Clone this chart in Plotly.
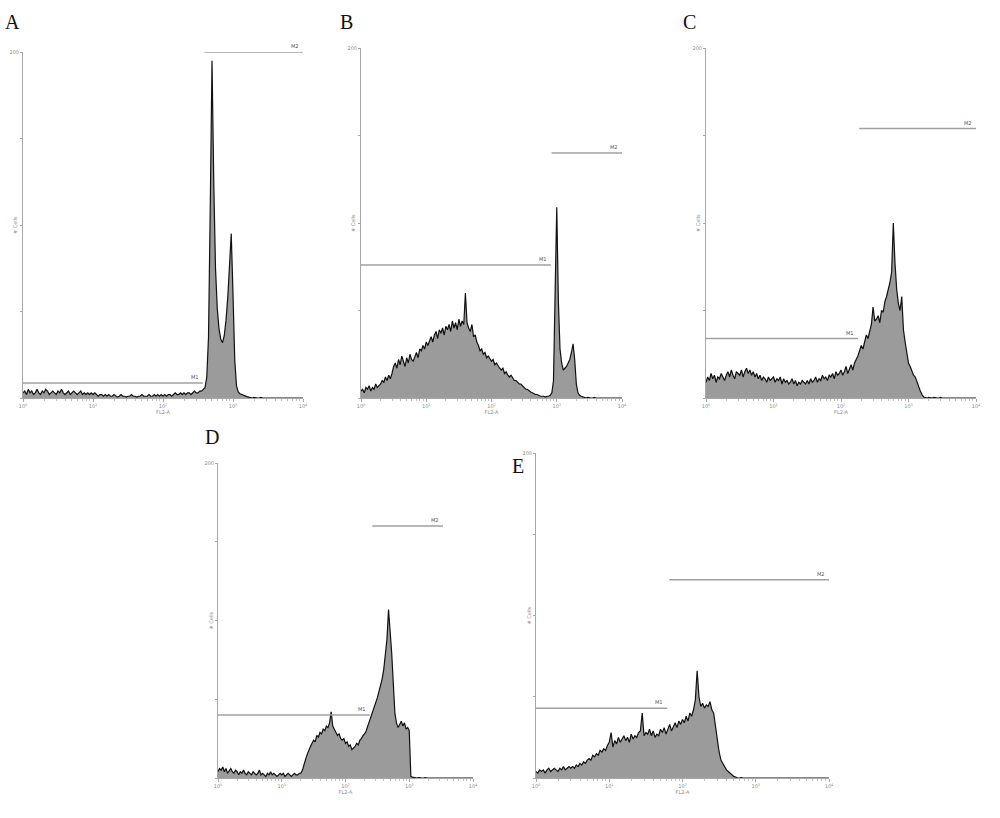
import math
import plotly.graph_objects as go

# ---------------- data ----------------
panel_labels = ['A', 'B', 'C', 'D', 'E']
bin_step = 0.025            # histogram channel width, in decades of FL2-A
n_bins = 161
log_pos = [round(i * bin_step, 4) for i in range(n_bins)]   # decade position 0..4

counts_a = ([3, 4, 2, 5, 3, 4, 2, 3, 5, 3, 2, 4, 3, 5, 4, 2, 3, 4, 3, 2, 4, 3, 5, 3, 2, 3, 4, 2, 3, 4, 3, 2, 3, 4, 2, 3, 2, 3, 2, 3]
            + [2, 3, 2, 1, 2, 2, 1, 2, 1, 2, 1, 1, 2, 1, 0.5, 1, 2, 1, 1, 0.5, 1, 1, 2, 1, 1, 0.5, 1, 1, 2, 1, 1, 1, 2, 1, 1, 2, 1, 2, 1, 2]
            + [1, 2, 1, 2, 2, 1, 2, 3, 2, 2, 3, 2, 3, 2, 3, 3, 2, 3, 4, 3, 3, 4, 4, 5]
            + [6, 12, 35, 110, 195, 125, 75, 52, 40, 34, 32, 36, 45, 58, 80, 95, 60, 22, 7, 3.5, 2.5, 2, 1.5, 1, 0.8, 0.5, 0.3]
            + [0, 0.3, 0, 0, 0, 0.3, 0, 0, 0, 0, 0.3, 0, 0, 0, 0, 0, 0.3, 0, 0, 0, 0, 0, 0, 0, 0, 0, 0, 0, 0, 0])

counts_b = ([4, 5, 3, 6, 5, 7, 4, 6, 5, 8, 6, 7]
            + [8, 10, 9, 12, 10, 13, 11, 14, 18, 20, 17]
            + [22, 19, 24, 21, 18, 23, 20, 25, 22, 21]
            + [24, 26, 23, 28, 27, 30, 28, 32, 30, 33]
            + [35, 32, 36, 38, 34, 39, 37, 40, 36, 41, 39]
            + [42, 38, 44, 40, 43, 39, 45, 41, 44, 42]
            + [60]
            + [43, 40, 38, 42, 35, 36, 32, 30, 27]
            + [28, 25, 26, 23, 24, 22, 21, 22, 19, 20, 18]
            + [17, 16, 17, 14, 15, 13, 12, 13, 11, 10]
            + [10, 9, 8, 8, 7, 6, 5, 5, 4, 3.4]
            + [3, 2.5, 2, 2, 1.5, 1, 1, 1, 0.5, 1, 1, 1.5, 3]
            + [10, 60, 109, 55, 28, 20, 16, 17, 18, 20, 22, 26, 31, 22, 8, 3, 1.5, 1, 0.8, 0.5]
            + [0, 0.3, 0, 0, 0, 0.3, 0, 0, 0, 0, 0, 0.3, 0, 0, 0, 0, 0, 0, 0, 0, 0, 0, 0])

counts_c = ([9, 12, 10, 14, 11, 13, 9, 12, 11, 14, 12, 10, 13, 15, 12, 16, 13, 11, 15, 14]
            + [13, 16, 12, 15, 17, 14, 16, 13, 15, 12, 14, 11, 13, 10, 12, 11, 9, 12, 10, 11]
            + [12, 9, 11, 10, 12, 8, 11, 9, 10, 8, 9, 11, 8, 10, 7, 9, 8, 10, 9, 8]
            + [10, 8, 11, 9, 10, 12, 9, 11, 10, 13, 11, 12, 10, 13, 12, 14, 11, 15, 13, 14]
            + [16, 13, 15, 18, 14, 17, 19, 16, 20, 22]
            + [24, 27, 30, 28, 33, 36, 34, 39, 42, 52]
            + [44, 45, 47, 43, 50, 49, 55, 58, 62, 66]
            + [72, 100, 77, 62, 54, 50, 58, 39, 32, 27]
            + [20, 18, 15, 13, 12, 9, 6, 4, 2, 0.6, 0.3]
            + [0, 0.3, 0, 0, 0.3, 0, 0, 0, 0.3, 0, 0, 0, 0, 0.3, 0, 0, 0, 0, 0, 0.3, 0, 0, 0, 0, 0, 0, 0, 0, 0, 0])

counts_d = ([4, 6, 5, 7, 4, 6, 3, 5, 6, 4, 3, 5, 4, 2, 4, 3, 5, 3, 2, 4]
            + [3, 2, 4, 3, 2, 3, 5, 2, 3, 2, 1, 3, 2, 4, 2, 3, 2, 1, 2, 3]
            + [2, 3, 1, 2, 3, 2, 1, 2, 3, 2, 2, 3]
            + [3, 5, 9, 12, 15, 18, 20, 22, 24, 23, 27, 26, 29, 28, 31, 30, 33, 32, 35, 42,
               33, 31, 29, 27, 28, 25, 24, 25, 22, 23, 20, 21, 18, 19, 20, 22, 21, 24, 25, 27,
               28, 30, 33, 35, 38, 41, 44, 48, 51, 55, 59, 63, 69, 78, 88, 107, 95, 79, 60, 41,
               35, 32, 34, 36, 33, 35, 31, 32, 30, 1, 0.6, 0.3]
            + [0, 0, 0.3, 0, 0, 0, 0.3, 0, 0, 0, 0, 0, 0.3, 0, 0, 0, 0, 0, 0, 0, 0, 0, 0, 0, 0,
               0, 0, 0, 0, 0, 0, 0, 0, 0, 0, 0, 0])

counts_e = ([4, 3, 5, 4, 5, 3, 5, 6, 4, 5, 6, 5, 4, 6, 5, 7, 5, 6, 7, 6]
            + [7, 6, 8, 7, 9, 8, 10, 9, 11, 12, 11, 14, 13, 15, 14, 17, 16, 18, 17, 20]
            + [22, 28, 19, 23, 21, 25, 22, 24, 26, 23, 25, 22, 27, 24, 26, 25, 28, 29, 40, 26]
            + [28, 27, 30, 26, 29, 25, 27, 26, 30, 28, 31, 27, 30, 33, 29, 32, 34, 31, 35, 33]
            + [36, 34, 38, 35, 40, 38, 42, 48, 66, 50, 44, 46, 43, 45, 44, 47, 42, 40, 32, 23]
            + [16, 11, 9, 7, 5, 4, 3, 2, 1, 0.6]
            + [0, 0, 0.3, 0, 0, 0, 0, 0.3, 0, 0, 0, 0, 0, 0, 0.3, 0, 0, 0, 0, 0, 0, 0, 0, 0.3, 0, 0,
               0, 0, 0, 0, 0, 0, 0, 0, 0, 0, 0, 0, 0, 0, 0, 0, 0, 0, 0, 0, 0, 0, 0, 0, 0][:51])

all_counts = [counts_a, counts_b, counts_c, counts_d, counts_e]

# marker gates (decades of FL2-A, and height in counts)
m1_start = [0, 0, 0, 0, 0]
m1_end = [2.57, 2.91, 2.25, 2.38, 1.79]
m1_level = [8.7, 76, 34, 40, 43]
m2_start = [2.59, 2.92, 2.27, 2.42, 1.82]
m2_end = [4, 4, 4, 3.53, 4]
m2_level = [200, 140, 154, 160, 122]

decade_ticks = [0, 1, 2, 3, 4]
decade_labels = ['10<sup>0</sup>', '10<sup>1</sup>', '10<sup>2</sup>', '10<sup>3</sup>', '10<sup>4</sup>']
count_ticks = [0, 50, 100, 150, 200]
count_labels = ['', '', '', '', '200']
x_title = 'FL2-A'
y_title = '# Cells'

# ---------------- layout (pixels of the 1000x818 page) ----------------
W, H = 1000, 818
box_left = [23, 361, 706, 218, 536]
box_right = [303, 622, 976, 473, 829]
box_bottom = [398, 398, 398, 778, 778]
box_top = [52, 48, 48, 463, 453]
letter_x = [12, 346, 689, 212, 518]
letter_y = [22, 22, 22, 437, 466]


def fx(px):
    return px / W


def fy(py):
    return 1 - py / H


minor_vals = [d + math.log10(k) for d in range(4) for k in range(2, 10)]

fig = go.Figure()
axis_grey = '#a8a8a8'
small_font = dict(family='DejaVu Sans', size=5, color='#8a8a8a')

for p in range(5):
    sfx = '' if p == 0 else str(p + 1)
    xa, ya = 'x' + sfx, 'y' + sfx
    n = len(all_counts[p])
    fig.add_trace(go.Scatter(
        x=log_pos[:n], y=all_counts[p], xaxis=xa, yaxis=ya,
        mode='lines', fill='tozeroy', fillcolor='#9b9b9b',
        line=dict(color='#111111', width=1.2), showlegend=False, hoverinfo='skip'))

    fig.update_layout(**{
        'xaxis' + sfx: dict(
            domain=[fx(box_left[p]), fx(box_right[p])], anchor=ya, range=[0, 4],
            showgrid=False, zeroline=False, showline=True, linecolor=axis_grey, linewidth=1,
            ticks='outside', ticklen=3, tickcolor=axis_grey, tickwidth=1,
            tickvals=decade_ticks, ticktext=decade_labels, tickfont=small_font,
            minor=dict(tickvals=minor_vals, ticks='outside', ticklen=2, tickcolor='#c0c0c0'),
            title=dict(text=x_title, font=small_font, standoff=1), automargin=False),
        'yaxis' + sfx: dict(
            domain=[fy(box_bottom[p]), fy(box_top[p])], anchor=xa, range=[0, 200],
            showgrid=False, zeroline=False, showline=True, linecolor=axis_grey, linewidth=1,
            ticks='outside', ticklen=2, tickcolor=axis_grey, tickwidth=1,
            tickvals=count_ticks, ticktext=count_labels, tickfont=small_font,
            automargin=False),
    })

    # y-axis title placed close to the axis line
    fig.add_annotation(x=fx(box_left[p] - 8), y=fy((box_top[p] + box_bottom[p]) / 2),
                       xref='paper', yref='paper', text=y_title, textangle=-90,
                       showarrow=False, xanchor='center', yanchor='middle', font=small_font)

    for (s, e, lv, name) in [(m1_start[p], m1_end[p], m1_level[p], 'M1'),
                             (m2_start[p], m2_end[p], m2_level[p], 'M2')]:
        fig.add_shape(type='line', xref=xa, yref=ya, x0=s, x1=e, y0=lv, y1=lv,
                      line=dict(color='#a0a0a0', width=1.5))
        fig.add_annotation(x=e, y=lv, xref=xa, yref=ya, text=name, showarrow=False,
                           xanchor='right', yanchor='bottom', xshift=-2, yshift=1,
                           font=dict(family='DejaVu Sans', size=5, color='#555555'))

    fig.add_annotation(x=fx(letter_x[p]), y=fy(letter_y[p]), xref='paper', yref='paper',
                       text=panel_labels[p], showarrow=False, xanchor='center', yanchor='middle',
                       font=dict(family='Liberation Serif', size=20, color='#111111'))

fig.update_layout(width=W, height=H, margin=dict(l=0, r=0, t=0, b=0),
                  paper_bgcolor='white', plot_bgcolor='white')
fig.write_html('out.html', config={'displayModeBar': False},
               post_script="document.body.style.margin='0px';document.body.style.overflow='hidden';")
